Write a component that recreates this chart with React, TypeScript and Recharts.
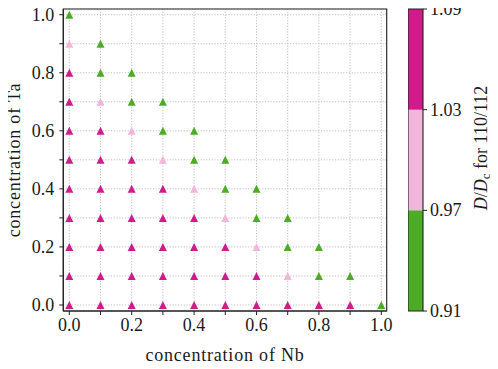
import React from 'react';
import {
  ScatterChart,
  Scatter,
  XAxis,
  YAxis,
  CartesianGrid,
  ReferenceArea,
  ComposedChart,
  Label,
} from 'recharts';

// concentration of Nb along each row (x) and of Ta for each row (y)
const nbConc = [0, 0.1, 0.2, 0.3, 0.4, 0.5, 0.6, 0.7, 0.8, 0.9, 1.0];
const taRows = [1.0, 0.9, 0.8, 0.7, 0.6, 0.5, 0.4, 0.3, 0.2, 0.1, 0.0];

// D/Dc class for 110/112 per row, Nb = 0 upward:
// 'm' = 1.03–1.09, 'p' = 0.97–1.03, 'g' = 0.91–0.97
const ratioBins: string[][] = [
  ['g'],
  ['p', 'g'],
  ['m', 'g', 'g'],
  ['m', 'p', 'g', 'g'],
  ['m', 'm', 'p', 'g', 'g'],
  ['m', 'm', 'm', 'p', 'g', 'g'],
  ['m', 'm', 'm', 'm', 'p', 'g', 'g'],
  ['m', 'm', 'm', 'm', 'm', 'p', 'g', 'g'],
  ['m', 'm', 'm', 'm', 'm', 'm', 'p', 'g', 'g'],
  ['m', 'm', 'm', 'm', 'm', 'm', 'm', 'p', 'g', 'g'],
  ['m', 'm', 'm', 'm', 'm', 'm', 'm', 'm', 'm', 'm', 'g'],
];

const axisTicks = [0, 0.1, 0.2, 0.3, 0.4, 0.5, 0.6, 0.7, 0.8, 0.9, 1.0];
const labeledTicks = [0, 0.2, 0.4, 0.6, 0.8, 1.0];

const colorbarTicks = [0.91, 0.97, 1.03, 1.09];
const colorbarBins = [
  { key: 'g', from: 0.91, to: 0.97, color: '#4dac26' },
  { key: 'p', from: 0.97, to: 1.03, color: '#f1b6da' },
  { key: 'm', from: 1.03, to: 1.09, color: '#d01c8b' },
];

const FONT = "'Liberation Serif', 'Times New Roman', serif";
const TEXT = '#1a1a1a';

function pointsFor(bin: string) {
  const out: { x: number; y: number }[] = [];
  ratioBins.forEach((row, r) => {
    row.forEach((b, i) => {
      if (b === bin) out.push({ x: nbConc[i], y: taRows[r] });
    });
  });
  return out;
}

const Triangle = (props: any) => {
  const { cx, cy, fill } = props;
  const r = 4;
  return (
    <path
      d={`M${cx},${cy - r}L${cx + r},${cy + r}L${cx - r},${cy + r}Z`}
      fill={fill}
      stroke="none"
    />
  );
};

const fmt = (v: number) =>
  labeledTicks.some((t) => Math.abs(t - v) < 1e-9) ? v.toFixed(1) : '';

const XTick = (p: any) => (
  <text
    x={p.x}
    y={p.y}
    dy="0.71em"
    textAnchor="middle"
    fill={TEXT}
    fontSize={18}
    fontFamily={FONT}
  >
    {fmt(p.payload.value)}
  </text>
);

const YTick = (p: any) => (
  <text
    x={p.x}
    y={p.y}
    dy="0.34em"
    textAnchor="end"
    fill={TEXT}
    fontSize={18}
    fontFamily={FONT}
  >
    {fmt(p.payload.value)}
  </text>
);

const CbTick = (p: any) => (
  <text
    x={p.x}
    y={p.y}
    dy="0.34em"
    textAnchor="start"
    fill={TEXT}
    fontSize={18}
    fontFamily={FONT}
  >
    {Number(p.payload.value).toFixed(2)}
  </text>
);

export default function App() {
  return (
    <div
      style={{
        position: 'relative',
        width: 498,
        height: 369,
        margin: -8,
        fontFamily: FONT,
      }}
    >
      <div style={{ position: 'absolute', left: 0, top: 0 }}>
        <ScatterChart
          width={498}
          height={369}
          margin={{ top: 9, right: 111.3, left: 0, bottom: 0 }}
        >
          <CartesianGrid
            stroke="#b8b8b8"
            strokeDasharray="1.2 1.6"
            strokeWidth={0.9}
          />
          <XAxis
            type="number"
            dataKey="x"
            domain={[-0.0192, 1.0173]}
            allowDataOverflow
            ticks={axisTicks}
            interval={0}
            height={58}
            tickSize={4}
            tickMargin={3}
            axisLine={{ stroke: '#222', strokeWidth: 1.1 }}
            tickLine={{ stroke: '#222', strokeWidth: 1 }}
            tick={XTick}
            label={
              <Label
                content={(p: any) => {
                  const vb = p.viewBox;
                  return (
                    <text
                      x={vb.x + vb.width / 2}
                      y={vb.y + 50}
                      textAnchor="middle"
                      fill={TEXT}
                      fontSize={18}
                      fontFamily={FONT}
                      letterSpacing={0.8}
                    >
                      concentration of Nb
                    </text>
                  );
                }}
              />
            }
          />
          <YAxis
            type="number"
            dataKey="y"
            domain={[-0.0207, 1.0196]}
            allowDataOverflow
            ticks={axisTicks}
            interval={0}
            width={63.3}
            tickSize={4}
            tickMargin={5}
            axisLine={{ stroke: '#222', strokeWidth: 1.1 }}
            tickLine={{ stroke: '#222', strokeWidth: 1 }}
            tick={YTick}
            label={
              <Label
                content={(p: any) => {
                  const vb = p.viewBox;
                  const cx = vb.x + 14;
                  const cy = vb.y + vb.height / 2;
                  return (
                    <text
                      x={cx}
                      y={cy}
                      transform={`rotate(-90 ${cx} ${cy})`}
                      textAnchor="middle"
                      dominantBaseline="central"
                      fill={TEXT}
                      fontSize={18}
                      fontFamily={FONT}
                      letterSpacing={0.8}
                    >
                      concentration of Ta
                    </text>
                  );
                }}
              />
            }
          />
          <ReferenceArea
            x1={-0.0192}
            x2={1.0173}
            y1={-0.0207}
            y2={1.0196}
            fill="none"
            fillOpacity={0}
            stroke="#222"
            strokeWidth={1.1}
            ifOverflow="visible"
          />
          {colorbarBins.map((b) => (
            <Scatter
              key={b.key}
              data={pointsFor(b.key)}
              fill={b.color}
              shape={Triangle}
              isAnimationActive={false}
            />
          ))}
        </ScatterChart>
      </div>
      <div style={{ position: 'absolute', left: 407.7, top: 0 }}>
        <ComposedChart
          width={90}
          height={369}
          data={[{ x: 0.5, y: 1 }]}
          margin={{ top: 9, right: 0, left: 0, bottom: 58 }}
        >
          <XAxis type="number" dataKey="x" domain={[0, 1]} hide />
          <YAxis
            type="number"
            dataKey="y"
            orientation="right"
            domain={[0.91, 1.09]}
            allowDataOverflow
            ticks={colorbarTicks}
            interval={0}
            width={75}
            tickSize={4}
            tickMargin={3}
            axisLine={false}
            tickLine={{ stroke: '#222', strokeWidth: 1 }}
            tick={CbTick}
            label={
              <Label
                content={(p: any) => {
                  const vb = p.viewBox;
                  const cx = vb.x + 58.3;
                  const cy = 148;
                  return (
                    <text
                      x={cx}
                      y={cy}
                      transform={`rotate(-90 ${cx} ${cy})`}
                      textAnchor="middle"
                      dominantBaseline="central"
                      fill={TEXT}
                      fontSize={18}
                      fontFamily={FONT}
                    >
                      <tspan fontStyle="italic">D</tspan>
                      <tspan>/</tspan>
                      <tspan fontStyle="italic">D</tspan>
                      <tspan fontSize={13} dy={4}>c</tspan>
                      <tspan dy={-4}> for 110/112</tspan>
                    </text>
                  );
                }}
              />
            }
          />
          {colorbarBins.map((b) => (
            <ReferenceArea
              key={b.key}
              x1={0}
              x2={1}
              y1={b.from}
              y2={b.to}
              fill={b.color}
              fillOpacity={1}
              stroke="none"
              ifOverflow="visible"
            />
          ))}
          <ReferenceArea
            x1={0}
            x2={1}
            y1={0.91}
            y2={1.09}
            fill="none"
            fillOpacity={0}
            stroke="#222"
            strokeWidth={1.1}
            ifOverflow="visible"
          />
        </ComposedChart>
      </div>
    </div>
  );
}
